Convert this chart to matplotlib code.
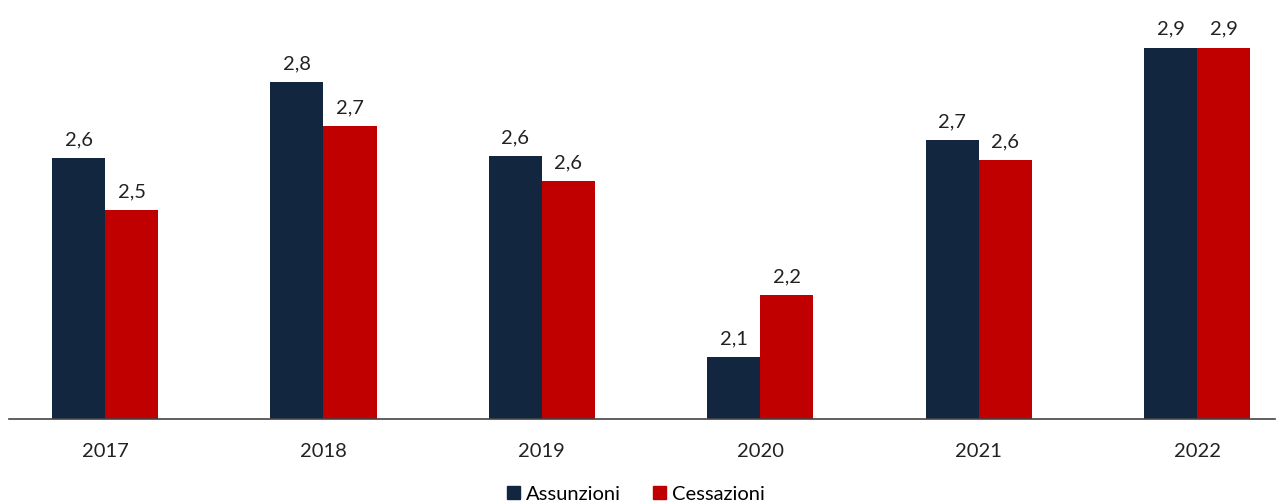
import numpy as np
import matplotlib.pyplot as plt
from matplotlib.patches import Patch

plt.rcParams['font.family'] = ['Lato', 'DejaVu Sans']

anni = ['2017', '2018', '2019', '2020', '2021', '2022']
assunzioni = [2.626, 2.839, 2.631, 2.069, 2.676, 2.935]
cessazioni = [2.480, 2.715, 2.561, 2.242, 2.620, 2.935]

col_a = '#12263F'
col_c = '#C00000'

W, H = 1284, 504
fig = plt.figure(figsize=(W / 100, H / 100), dpi=100)
# axes box in pixels: left 9, right 1275, bottom 419 (from top), top 10
ax = fig.add_axes([9 / W, (H - 419) / H, (1275 - 9) / W, (419 - 10) / H])

x = np.arange(len(anni))
w = 0.243
ba = ax.bar(x - w / 2, assunzioni, w, color=col_a, label='Assunzioni')
bc = ax.bar(x + w / 2, cessazioni, w, color=col_c, label='Cessazioni')

ax.set_xlim(-0.44, 5.357)
ax.set_ylim(1.895, 1.895 + 0.0028 * 409)

for bars in (ba, bc):
	for b in bars:
		v = b.get_height()
		ax.annotate(('%.1f' % v).replace('.', ','), (b.get_x() + b.get_width() / 2, v),
			xytext=(0, 7), textcoords='offset points', ha='center', va='bottom',
			fontsize=14.5, color='#222222')

ax.set_xticks(x)
ax.set_xticklabels(anni, fontsize=14.5, color='#222222')
ax.tick_params(axis='x', length=0, pad=17)
ax.set_yticks([])
for s in ['top', 'right', 'left']:
	ax.spines[s].set_visible(False)
ax.spines['bottom'].set_color('#444444')
ax.spines['bottom'].set_linewidth(1.2)

handles = [Patch(color=col_a, label='Assunzioni'), Patch(color=col_c, label='Cessazioni')]
fig.legend(handles=handles, loc='center', bbox_to_anchor=(636 / W, 1 - 494 / H), ncol=2,
	frameon=False, fontsize=14.5, handlelength=0.65, handleheight=0.65,
	handletextpad=0.3, columnspacing=1.6)

fig.savefig('out.png', dpi=100)
